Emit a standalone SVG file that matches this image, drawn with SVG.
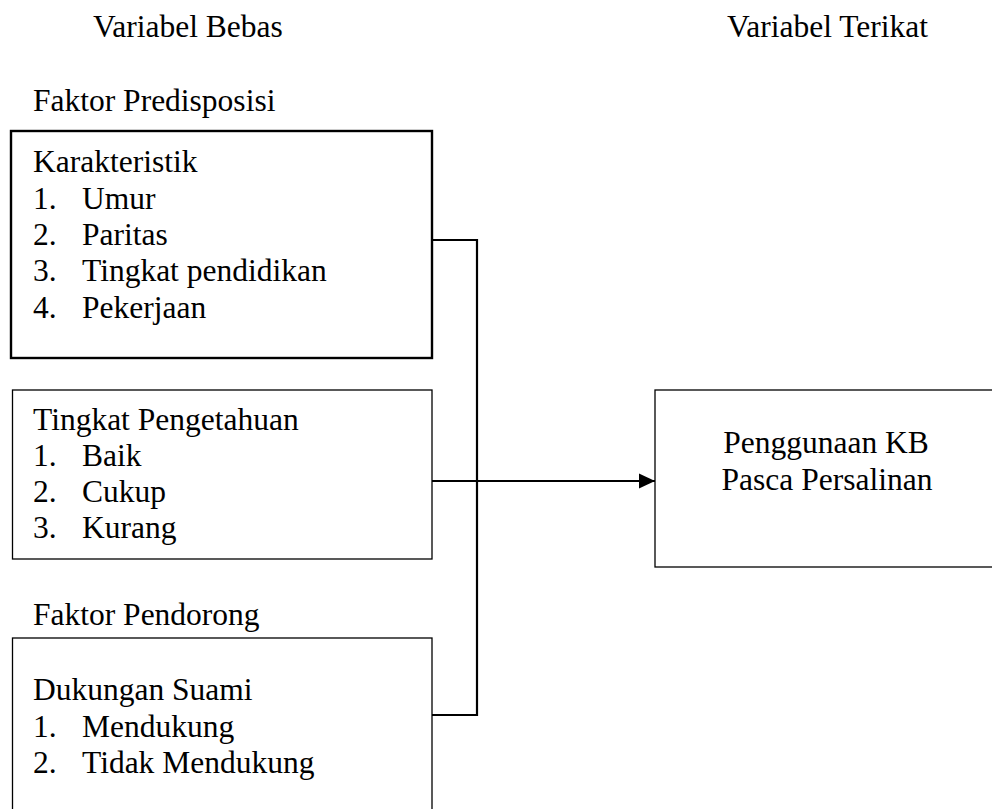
<svg xmlns="http://www.w3.org/2000/svg" width="992" height="809" viewBox="0 0 992 809" font-family="'Liberation Serif', 'Times New Roman', serif">
<style>
text{font-family:'Liberation Serif','Times New Roman',serif;font-size:31.5px;fill:#000}
.box{fill:none;stroke:#000;stroke-width:1.3}
.thick{stroke-width:2.4}
.conn{fill:none;stroke:#000;stroke-width:2.2}
</style>
<defs>
<marker id="arr" markerWidth="16" markerHeight="16" refX="16" refY="8" orient="auto" markerUnits="userSpaceOnUse">
<path d="M0,0.5 L16,8 L0,15.5 Z" fill="#000"/>
</marker>
</defs>
<rect width="992" height="809" fill="#fff"/>
<g id="headers">
<text x="93" y="37">Variabel Bebas</text>
<text x="727" y="37">Variabel Terikat</text>
<text x="33" y="111">Faktor Predisposisi</text>
<text x="33" y="625">Faktor Pendorong</text>
</g>
<g id="karakteristik">
<rect class="box thick" x="11" y="131" width="421" height="227"/>
<text x="33" y="172">Karakteristik</text>
<text x="33" y="209">1.</text><text x="82" y="209">Umur</text>
<text x="33" y="245">2.</text><text x="82" y="245">Paritas</text>
<text x="33" y="281">3.</text><text x="82" y="281">Tingkat pendidikan</text>
<text x="33" y="318">4.</text><text x="82" y="318">Pekerjaan</text>
</g>
<g id="pengetahuan">
<rect class="box" x="12.5" y="390" width="419.5" height="169"/>
<text x="33" y="430">Tingkat Pengetahuan</text>
<text x="33" y="466">1.</text><text x="82" y="466">Baik</text>
<text x="33" y="502">2.</text><text x="82" y="502">Cukup</text>
<text x="33" y="538">3.</text><text x="82" y="538">Kurang</text>
</g>
<g id="dukungan">
<rect class="box" x="12.5" y="638" width="419.5" height="200"/>
<text x="33" y="700">Dukungan Suami</text>
<text x="33" y="737">1.</text><text x="82" y="737">Mendukung</text>
<text x="33" y="773">2.</text><text x="82" y="773">Tidak Mendukung</text>
</g>
<g id="penggunaan">
<rect class="box" x="655" y="390" width="400" height="177"/>
<text x="826" y="453" text-anchor="middle">Penggunaan KB</text>
<text x="827" y="490" text-anchor="middle">Pasca Persalinan</text>
</g>
<g id="connectors">
<path class="conn" d="M432,240 H477 V715 H432"/>
<path class="conn" d="M432,481 H655" marker-end="url(#arr)"/>
</g>
</svg>
